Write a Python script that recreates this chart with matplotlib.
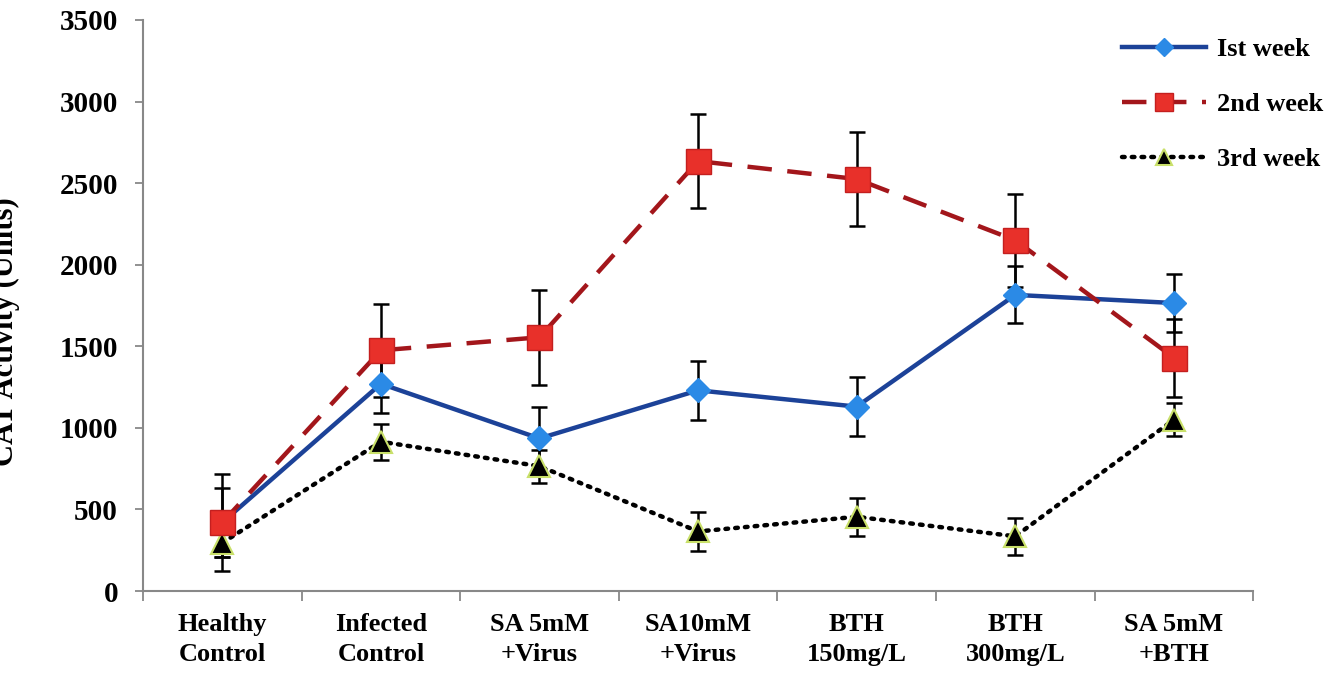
import matplotlib
matplotlib.use("Agg")
import matplotlib.pyplot as plt
import numpy as np

plt.rcParams["font.family"] = ["Liberation Serif", "DejaVu Serif"]
plt.rcParams["font.weight"] = "bold"

# ---------- data ----------
categories = ["Healthy\nControl", "Infected\nControl", "SA 5mM\n+Virus", "SA10mM\n+Virus",
              "BTH\n150mg/L", "BTH\n300mg/L", "SA 5mM\n+BTH"]
week1 = [420, 1270, 935, 1230, 1130, 1815, 1765]
week1_err = [210, 180, 190, 180, 180, 175, 180]
week2 = [420, 1475, 1555, 2635, 2525, 2150, 1430]
week2_err = [300, 285, 290, 290, 290, 285, 240]
week3 = [295, 915, 765, 365, 455, 335, 1050]
week3_err = [85, 110, 100, 120, 115, 115, 100]
yticks = [0, 500, 1000, 1500, 2000, 2500, 3000, 3500]

x = np.arange(len(categories))

fig = plt.figure(figsize=(13.44, 6.79), dpi=100)
ax = fig.add_axes([0.1064, 0.1296, 0.826, 0.841])

err_kw = dict(ecolor="black", elinewidth=1.8, capsize=6, capthick=1.8, zorder=2)
ax.errorbar(x, week1, yerr=week1_err, fmt="none", **err_kw)
ax.errorbar(x, week2, yerr=week2_err, fmt="none", **err_kw)
ax.errorbar(x, week3, yerr=week3_err, fmt="none", **err_kw)

ax.plot(x, week3, color="black", ls=(0, (0.6, 1.6)), lw=3.2, dash_capstyle="round",
        marker="^", ms=16, mfc="black", mec="#c9e06a", mew=1.5, label="3rd week", zorder=3)
ax.plot(x, week1, color="#1c4298", lw=3.2, marker="D", ms=12, mfc="#2b8ae6",
        mec="#2b8ae6", label="Ist week", zorder=4)
ax.plot(x, week2, color="#a3161b", ls=(0, (5.5, 3.5)), lw=3.2, marker="s", ms=18,
        mfc="#e8302a", mec="#c41f1f", mew=1, label="2nd week", zorder=5)

ax.set_xlim(-0.5, len(categories) - 0.5)
ax.set_ylim(0, 3500)
ax.set_yticks(yticks)
ax.set_xticks(x)
ax.set_xticklabels(categories, fontsize=19, linespacing=1.4)
ax.set_xticks(np.arange(-0.5, len(categories)), minor=True)
ax.tick_params(axis="x", which="major", length=0, pad=16)
ax.tick_params(axis="x", which="minor", length=7, width=1.3, color="#888888", direction="out")
ax.tick_params(axis="y", labelsize=21, length=6, width=1.3, color="#888888", pad=12)

for s in ["top", "right"]:
    ax.spines[s].set_visible(False)
for s in ["left", "bottom"]:
    ax.spines[s].set_color("#888888")
    ax.spines[s].set_linewidth(1.5)

# y label is cropped at the left edge in the original
fig.text(0.004, 0.512, "CAT Activity (Units)", rotation=90, ha="center", va="center",
         fontsize=22)

h, l = ax.get_legend_handles_labels()
order = [1, 2, 0]
leg = fig.legend([h[i] for i in order], [l[i] for i in order], loc="upper left",
                 bbox_to_anchor=(0.817, 0.98), frameon=False, fontsize=19,
                 handlelength=3.2, labelspacing=1.2, markerscale=0.75, handletextpad=0.4)

fig.savefig("out.png", dpi=100)
